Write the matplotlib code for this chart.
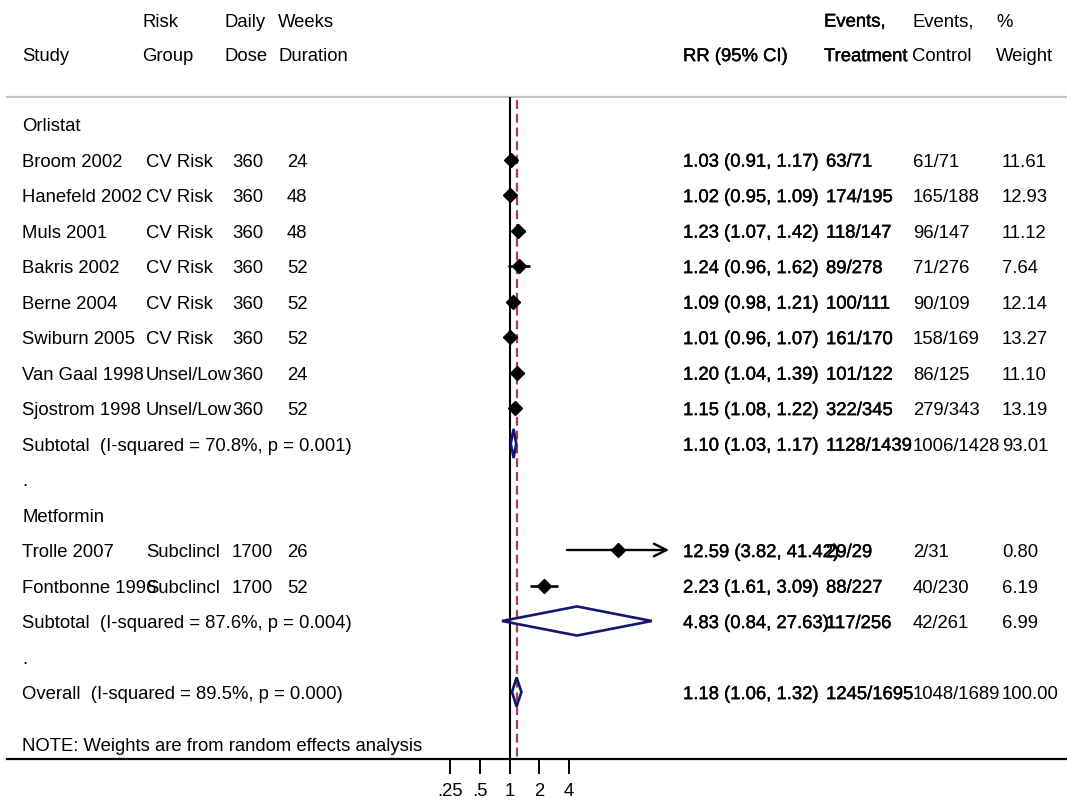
import matplotlib
matplotlib.use("Agg")
import matplotlib.pyplot as plt
import matplotlib.transforms as mtransforms
import matplotlib.patheffects as pe
from matplotlib.patches import Polygon
import numpy as np

plt.rcParams['font.family'] = ['Liberation Sans', 'DejaVu Sans']

# ---------------- data ----------------
studies = ["Broom 2002", "Hanefeld 2002", "Muls 2001", "Bakris 2002", "Berne 2004",
           "Swiburn 2005", "Van Gaal 1998", "Sjostrom 1998",
           "Trolle 2007", "Fontbonne 1996"]
risk_group = ["CV Risk", "CV Risk", "CV Risk", "CV Risk", "CV Risk", "CV Risk",
              "Unsel/Low", "Unsel/Low", "Subclincl", "Subclincl"]
daily_dose = ["360", "360", "360", "360", "360", "360", "360", "360", "1700", "1700"]
weeks = ["24", "48", "48", "52", "52", "52", "24", "52", "26", "52"]
rr = [1.03, 1.02, 1.23, 1.24, 1.09, 1.01, 1.20, 1.15, 12.59, 2.23]
rr_lo = [0.91, 0.95, 1.07, 0.96, 0.98, 0.96, 1.04, 1.08, 3.82, 1.61]
rr_hi = [1.17, 1.09, 1.42, 1.62, 1.21, 1.07, 1.39, 1.22, 41.42, 3.09]
ev_treat = ["63/71", "174/195", "118/147", "89/278", "100/111", "161/170", "101/122",
            "322/345", "29/29", "88/227"]
ev_ctrl = ["61/71", "165/188", "96/147", "71/276", "90/109", "158/169", "86/125",
           "279/343", "2/31", "40/230"]
weight = ["11.61", "12.93", "11.12", "7.64", "12.14", "13.27", "11.10", "13.19",
          "0.80", "6.19"]
study_rows = [1, 2, 3, 4, 5, 6, 7, 8, 12, 13]

sub_labels = ["Subtotal  (I-squared = 70.8%, p = 0.001)",
              "Subtotal  (I-squared = 87.6%, p = 0.004)",
              "Overall  (I-squared = 89.5%, p = 0.000)"]
sub_rr = [1.10, 4.83, 1.18]
sub_lo = [1.03, 0.84, 1.06]
sub_hi = [1.17, 27.63, 1.32]
sub_treat = ["1128/1439", "117/256", "1245/1695"]
sub_ctrl = ["1006/1428", "42/261", "1048/1689"]
sub_weight = ["93.01", "6.99", "100.00"]
sub_rows = [9, 14, 16]

group_labels = ["Orlistat", "Metformin"]
group_rows = [0, 11]
dot_rows = [10, 15]

xticks = [0.25, 0.5, 1, 2, 4]
xtick_labels = [".25", ".5", "1", "2", "4"]
overall_rr = 1.18
note = "NOTE: Weights are from random effects analysis"

# ---------------- layout ----------------
W, H = 1067, 802
fig = plt.figure(figsize=(W / 100, H / 100), dpi=100)
ax = fig.add_axes([0, 0, 1, 1])
ax.set_xscale('log', base=2)
px_one, px_oct = 509.5, 29.7
ax.set_xlim(2 ** (-px_one / px_oct), 2 ** ((W - px_one) / px_oct))
y0, dy = 124.0, 35.5
def yrow(px):
    return (px - y0) / dy
ax.set_ylim(yrow(H), yrow(0))
ax.axis('off')

tr = mtransforms.blended_transform_factory(ax.transAxes, ax.transData)
FS = 13.3
BASE = 0.2  # baseline offset (rows)
bold = [pe.withStroke(linewidth=0.3, foreground='black')]

def txt(xpx, row, s, heavy=False):
    t = ax.text(xpx / W, row + BASE, s, transform=tr, fontsize=FS, va='baseline',
                ha='left', color='black')
    if heavy:
        t.set_path_effects(bold)

# headers
hr1, hr2 = yrow(19.5), yrow(54)
txt(142, hr1, "Risk"); txt(224, hr1, "Daily"); txt(278, hr1, "Weeks")
txt(824, hr1, "Events,", True); txt(912, hr1, "Events,"); txt(996, hr1, "%")
txt(22, hr2, "Study"); txt(142, hr2, "Group"); txt(224, hr2, "Dose"); txt(278, hr2, "Duration")
txt(683, hr2, "RR (95% CI)", True); txt(824, hr2, "Treatment", True)
txt(912, hr2, "Control"); txt(996, hr2, "Weight")

# gray header line
ax.axhline(yrow(96.5), xmin=7 / W, xmax=1, color='#c4c4c4', lw=1.6)

# group labels and dots
for lab, r in zip(group_labels, group_rows):
    txt(22, r, lab)
for r in dot_rows:
    txt(22, r, ".")

# study rows
for i, r in enumerate(study_rows):
    txt(22, r, studies[i]); txt(146, r, risk_group[i]); txt(232, r, daily_dose[i])
    txt(287, r, weeks[i])
    txt(683, r, f"{rr[i]:.2f} ({rr_lo[i]:.2f}, {rr_hi[i]:.2f})", True)
    txt(826, r, ev_treat[i], True)
    txt(913, r, ev_ctrl[i]); txt(1002, r, weight[i])

for i, r in enumerate(sub_rows):
    txt(22, r, sub_labels[i])
    txt(683, r, f"{sub_rr[i]:.2f} ({sub_lo[i]:.2f}, {sub_hi[i]:.2f})", True)
    txt(826, r, sub_treat[i], True)
    txt(913, r, sub_ctrl[i]); txt(1002, r, sub_weight[i])

txt(22, yrow(744), note)

# axis line and ticks
axis_row = yrow(759)
ax.axhline(axis_row, xmin=7 / W, xmax=1, color='black', lw=1.6)
ax.vlines(xticks, axis_row, yrow(774), color='black', lw=1.4)
for v, lab in zip(xticks, xtick_labels):
    ax.text(v, yrow(796.5), lab, fontsize=FS, ha='center', va='baseline')

# null line and overall dashed line
ax.vlines(1, yrow(97), axis_row, color='black', lw=1.5, zorder=2)
ax.vlines(overall_rr, yrow(100), axis_row, color='#a8404f', lw=1.6,
          linestyles=(0, (4.0, 2.2)), zorder=2)

# study CIs and points
for i, r in enumerate(study_rows):
    if i == 8:
        ax.annotate("", xy=(rr_hi[i], r), xytext=(rr_lo[i], r),
                    arrowprops=dict(arrowstyle='->,head_length=0.9,head_width=0.45',
                                    color='black', lw=1.7, shrinkA=0, shrinkB=0),
                    zorder=3)
    else:
        ax.plot([rr_lo[i], rr_hi[i]], [r, r], color='black', lw=1.9,
                solid_capstyle='butt', zorder=3)
    ax.plot(rr[i], r, marker='D', ms=7.2, color='black', zorder=4)

# diamonds
dh = 0.41
for i, r in enumerate(sub_rows):
    poly = Polygon([(sub_lo[i], r), (sub_rr[i], r - dh), (sub_hi[i], r),
                    (sub_rr[i], r + dh)], closed=True, fill=False,
                   edgecolor='#15166e', lw=1.9, zorder=5)
    ax.add_patch(poly)

fig.savefig("out.png", dpi=100)
